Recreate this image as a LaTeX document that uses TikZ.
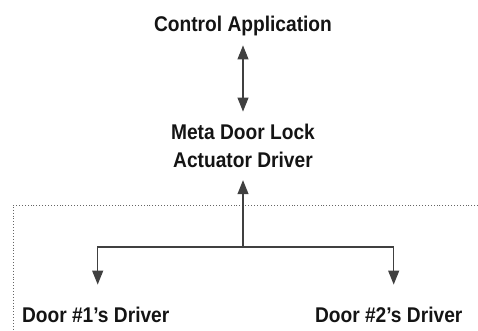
\documentclass[tikz,border=0pt]{standalone}
\usepackage{fontspec}
\setmainfont{Liberation Sans}[FakeStretch=0.9]
\usetikzlibrary{arrows.meta}
\begin{document}
\begin{tikzpicture}[x=1pt,y=-1pt,
  lbl/.style={font=\bfseries\fontsize{21.3}{28}\selectfont, text=black!92, inner sep=0pt, outer sep=0pt},
  conn/.style={line width=1.1pt, draw=black!75, -{Triangle[width=11pt,length=14pt]}},
  dotline/.style={draw=black!60, line width=0.9pt, dotted}]
\useasboundingbox (0,0) rectangle (478,331);
\node[lbl, anchor=base] (ctrl) at (243,32) {Control Application};
\node[lbl, anchor=base, align=center] (meta) at (243,167) {Meta Door Lock\\Actuator Driver};
\node[lbl, anchor=base west] (d1) at (22,322) {Door \#1’s Driver};
\node[lbl, anchor=base west] (d2) at (315,322) {Door \#2’s Driver};
\coordinate (bar) at (243,247);
\coordinate (corner) at (13,205);
\draw[dotline] (478,205) -- (corner) -- (13,331);
\draw[conn, {Triangle[width=11pt,length=14pt]}-{Triangle[width=11pt,length=14pt]}, shorten <=9pt, shorten >=12pt] (ctrl.south) -- (meta.north);
\draw[conn, shorten >=13pt] (bar) -- (meta.south);
\draw[conn, shorten >=22pt] (bar) -| ([xshift=2pt]d1.north);
\draw[conn, shorten >=22pt] (bar) -| ([xshift=5pt]d2.north);
\end{tikzpicture}
\end{document}
